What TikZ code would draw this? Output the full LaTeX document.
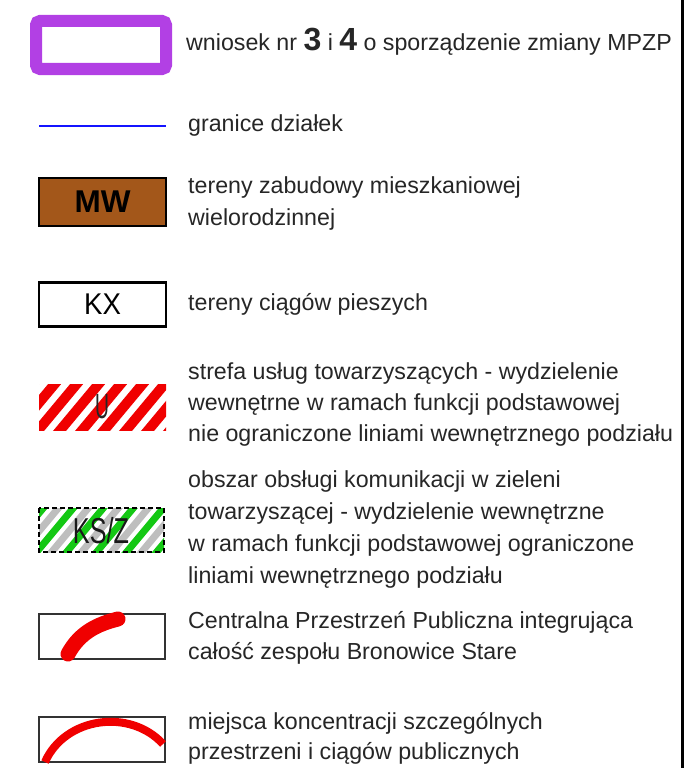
\documentclass[tikz,border=0pt]{standalone}
\usepackage{fontspec}
\setmainfont{Liberation Sans}
\definecolor{violetL}{RGB}{178,64,228}
\definecolor{brownMW}{RGB}{163,87,26}
\definecolor{blueL}{RGB}{20,20,255}
\definecolor{redL}{RGB}{240,0,0}
\definecolor{greenL}{RGB}{20,200,20}
\definecolor{grayL}{RGB}{190,190,190}
\newcommand\txf{\fontsize{23.2}{30}\selectfont}
\tikzset{
  lbl/.style={anchor=base west, inner sep=0pt, font=\txf, text=black!85},
  frame/.style={draw=black!80, line width=1.6pt},
}
\begin{document}
\begin{tikzpicture}[x=1pt,y=-1pt]
\useasboundingbox[fill=white] (0,0) rectangle (687,768);
% right border line
\coordinate (vt) at (682,0);
\coordinate (vb) at (682,768);
\draw[line width=3pt, black] (vt) -- (vb);

% 1 purple frame
\draw[violetL, line width=12pt, rounded corners=4pt] (36,21) rectangle (166,69);
\node[lbl] (t1) at (186,51) {wniosek nr {\fontsize{32}{32}\selectfont\bfseries 3} i {\fontsize{32}{32}\selectfont\bfseries 4} o sporządzenie zmiany MPZP};

% 2 blue line
\coordinate (b1) at (39,126);
\coordinate (b2) at (166,126);
\draw[blueL, line width=2pt] (b1) -- (b2);
\node[lbl] (t2) at (188,131) {granice działek};

% 3 MW
\node[draw=black, line width=2pt, fill=brownMW, minimum width=127pt, minimum height=48pt, inner sep=0pt, font=\fontsize{31.5}{32}\selectfont\bfseries] (mw) at (102.5,201.5) {MW};
\node[lbl] (t3a) at (188,193) {tereny zabudowy mieszkaniowej};
\node[lbl] (t3b) at (188,225) {wielorodzinnej};

% 4 KX
\node[draw=black, line width=2.5pt, fill=white, minimum width=127pt, minimum height=44pt, inner sep=0pt, font=\fontsize{30}{30}\selectfont] (kx) at (102.5,304.5) {\scalebox{0.92}[1]{KX}};
\node[lbl] (t4) at (188,310) {tereny ciągów pieszych};

% 5 U hatched
\begin{scope}
  \clip (39,384) rectangle (166,430);
  \foreach \i in {-80,-58,...,200} {
    \draw[redL, line width=10pt] (\i,440) -- ++(50,-60);
  }
\end{scope}
\node[inner sep=0pt, font=\fontsize{35}{35}\selectfont\color{black!85}] (u) at (102,407) {\scalebox{0.55}[1]{U}};
\node[lbl] (t5a) at (188,379) {strefa usług towarzyszących - wydzielenie};
\node[lbl] (t5b) at (188,410) {wewnętrne w ramach funkcji podstawowej};
\node[lbl] (t5c) at (188,441) {nie ograniczone liniami wewnętrznego podziału};

% 6 KS/Z hatched
\begin{scope}
  \clip (39,508) rectangle (164,552);
  \foreach \i in {-90,-60,...,200} {
    \draw[greenL, line width=7pt] (\i,560) -- ++(50,-60);
    \draw[grayL, line width=7pt] (\i+15,560) -- ++(50,-60);
  }
\end{scope}
\draw[black, line width=1.5pt, dash pattern=on 5pt off 3pt] (39,508) rectangle (164,552);
\node[inner sep=0pt, font=\fontsize{36}{36}\selectfont\color{black!90}] (ksz) at (101,531) {\scalebox{0.7}[1]{KS/Z}};
\node[lbl] (t6a) at (188,487) {obszar obsługi komunikacji w zieleni};
\node[lbl] (t6b) at (188,519) {towarzyszącej - wydzielenie wewnętrzne};
\node[lbl] (t6c) at (188,551) {w ramach funkcji podstawowej ograniczone};
\node[lbl] (t6d) at (188,583) {liniami wewnętrznego podziału};

% 7 Centralna
\draw[frame] (39,614) rectangle (165,659);
\coordinate (c1) at (68,654);
\coordinate (c2) at (118,619);
\draw[redL, line width=15pt, line cap=round] (c1) .. controls (80,632) and (98,624) .. (c2);
\node[lbl] (t7a) at (188,628) {Centralna Przestrzeń Publiczna integrująca};
\node[lbl] (t7b) at (188,659) {całość zespołu Bronowice Stare};

% 8 miejsca
\draw[frame] (39,717) rectangle (165,762);
\coordinate (d1) at (45,762);
\coordinate (d2) at (163,744);
\draw[redL, line width=8pt] (d1) .. controls (65,717) and (130,708) .. (d2);
\node[lbl] (t8a) at (188,729) {miejsca koncentracji szczególnych};
\node[lbl] (t8b) at (188,759) {przestrzeni i ciągów publicznych};
\end{tikzpicture}
\end{document}
